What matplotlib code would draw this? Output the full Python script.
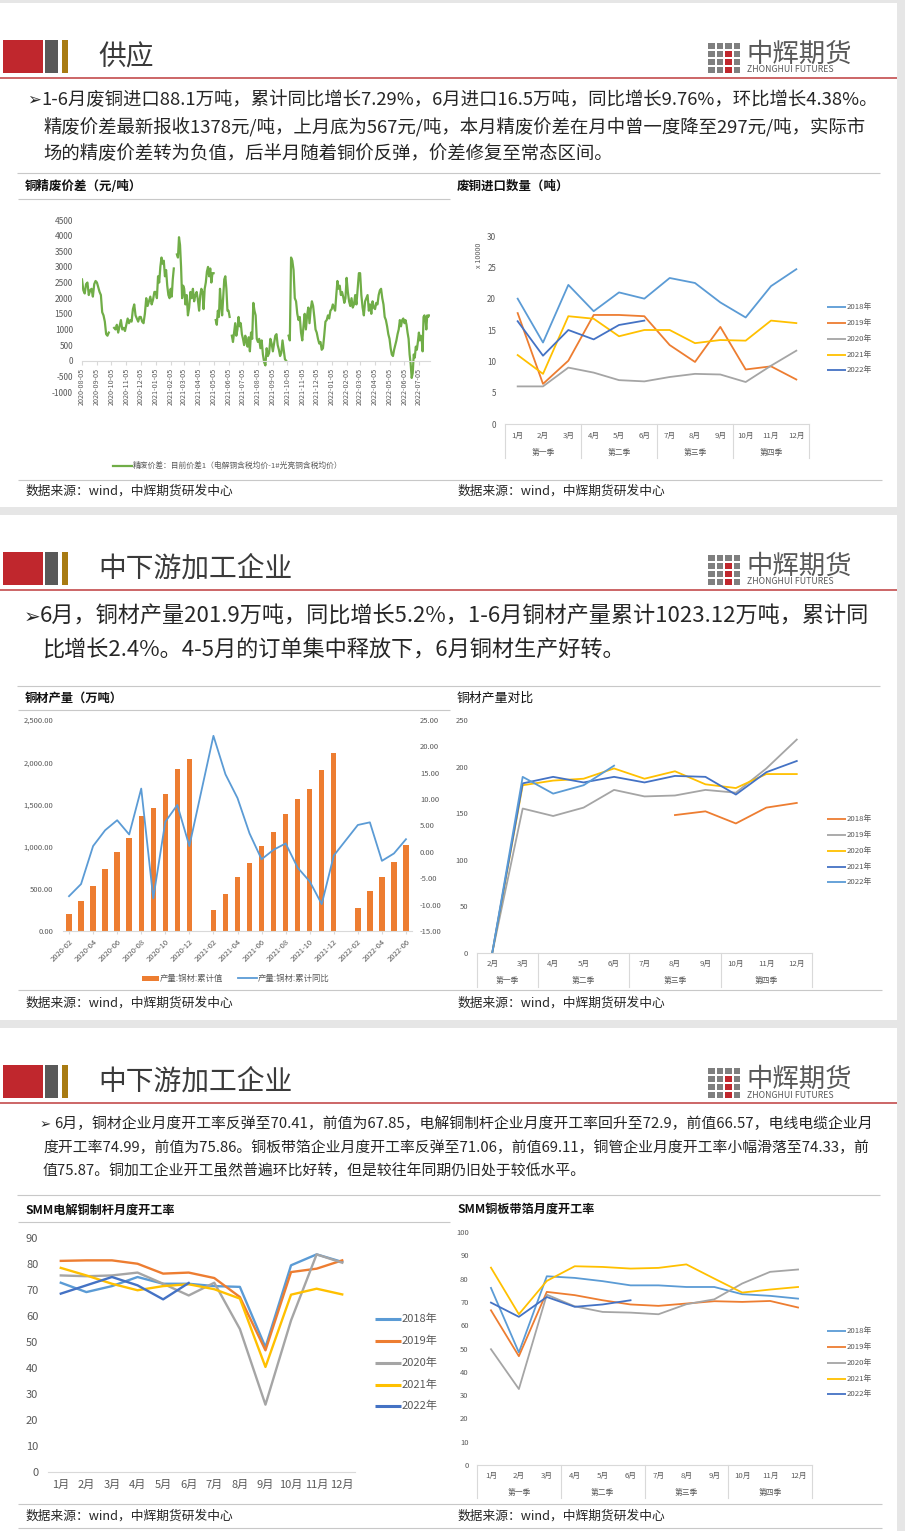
import numpy as np
import pandas as pd
import matplotlib
matplotlib.use('Agg')
import matplotlib.pyplot as plt
from matplotlib.patches import Rectangle
from matplotlib.transforms import blended_transform_factory

plt.rcParams['font.family'] = ['Noto Sans CJK SC', 'DejaVu Sans']
plt.rcParams['axes.unicode_minus'] = False

W, H = 905, 1531

# ---------------- data ----------------
# chart 1: refined-scrap spread, values read per month (None = gap)
spread_ticks = ['2020-08-05', '2020-09-05', '2020-10-05', '2020-11-05', '2020-12-05',
                '2021-01-05', '2021-02-05', '2021-03-05', '2021-04-05', '2021-05-05',
                '2021-06-05', '2021-07-05', '2021-08-05', '2021-09-05', '2021-10-05',
                '2021-11-05', '2021-12-05', '2022-01-05', '2022-02-05', '2022-03-05',
                '2022-04-05', '2022-05-05', '2022-06-05', '2022-07-05']
spread_end = '2022-07-28'
spread_by_month = [
    [2600, 2250, 2150, 2450, 2500, 2100, 2250, 2300, 2050, 2450, 2550],
    [2500, 2350, 2200, 2100, 1550, 1450, 1250, 850, 800, 900, None],
    [None, None, 1050, 1000, 1150, 900, 1100, 1300, 1000, 1050, 950],
    [1150, 1350, 1200, 1300, 1250, 1650, 1800, 1450, 1350, 1250, 1400],
    [1400, 1250, 1200, 1500, 2000, 1750, 1900, 2050, 1800, 1950, 2200],
    [2200, 2000, 2700, 2500, 3000, 3300, 3100, 3200, 2700, 2900, 2400, 2100, 2000],
    [2300, 2050, 2600, 2950, None, None, 3400, 3300, 3950, 3700, 3000, 2000, 2400],
    [2300, 1800, 2100, 1450, 1700, 2200, 2000, 2300, 1900, 2100, 2200, 1950],
    [1600, 2100, 2300, 2200, 1650, 2300, 2500, 2850, 3000, 2700, 2950, 2500, 2800],
    [2800, None, 1300, 1150, 1600, 1400, 2300, 1800, 1450, 2000, 2600, 2700, 2300, 1600],
    [1600, 1400, None, 800, 600, 900, 1200, 800, 1000, 1400, 1100, 1200, 850],
    [700, 500, 800, 600, 450, 750, 300, 900, 700, 1850, 1600, 1450, 700],
    [600, 700, 400, 650, 200, -50, -150, 400, 150, 250, 700, 550],
    [300, 550, 800, 850, 500, 350, 150, 250, 650, 350, 50, 0],
    [None, 800, 650, 3300, 3200, 2900, 2000, 1900, 1500, 1300, 1400, 900],
    [650, 1100, 1500, 1000, 1450, 1700, 1200, 1650, 1900, 1750, 1400, 1000],
    [900, 700, 550, 600, 350, 400, 800, 1250, 1300, 1450, 1350, 1600],
    [1650, 1800, 1700, 1600, 2100, 2550, 2300, 2400, 2100, 2200, 2050, 1850, 2000],
    [2650, 2200, 1900, 1750, 2000, 1700, 1800, 2100, 1800, 2300, 2800],
    [2800, 2100, 1700, 1450, 1900, 2000, 2100, 1600, 1800, 1500, 1900, 1700],
    [1650, 1850, 1800, 2100, 2250, 2300, 2000, 1800, 1400, 1300, 1100, 850],
    [700, 400, 200, 150, 350, 500, 650, 850, 1000, 1300, 1100, 1300, 1350],
    [1200, 1300, 1150, 900, 700, 200, -100, -550, -400, 200, 100, 450, 350, 600],
    [900, 650, 800, 700, 300, 1400, 1450, 1350, 1000, 1450, 1400, 1450],
]

months12 = ['1月', '2月', '3月', '4月', '5月', '6月', '7月', '8月', '9月', '10月', '11月', '12月']
quarters = ['第一季', '第二季', '第三季', '第四季']
years = ['2018年', '2019年', '2020年', '2021年', '2022年']

# chart 2: scrap copper imports (x10000 t)
scrap_2018 = [20, 13, 22.2, 18, 21, 20, 23.3, 22.5, 19.4, 17, 22, 24.7]
scrap_2019 = [17.7, 6.4, 10.1, 17.4, 17.4, 17.2, 12.6, 9.9, 15.5, 8.7, 9.2, 7.1]
scrap_2020 = [6, 6, 9, 8.2, 7, 6.8, 7.5, 8, 7.9, 6.7, 9.3, 11.7]
scrap_2021 = [11, 8, 17.2, 16.8, 14, 15, 15, 12.9, 13.4, 13.3, 16.5, 16.1]
scrap_2022 = [16.4, 10.9, 15, 13.5, 15.8, 16.5, None, None, None, None, None, None]

# chart 3: copper products output, cumulative value and cumulative yoy
output_months = ['2020-02', '2020-03', '2020-04', '2020-05', '2020-06', '2020-07', '2020-08',
                 '2020-09', '2020-10', '2020-11', '2020-12', '2021-01', '2021-02', '2021-03',
                 '2021-04', '2021-05', '2021-06', '2021-07', '2021-08', '2021-09', '2021-10',
                 '2021-11', '2021-12', '2022-01', '2022-02', '2022-03', '2022-04', '2022-05',
                 '2022-06']
output_cum = [201, 355, 537, 735, 932, 1106, 1367, 1461, 1623, 1919, 2038, None,
              253, 438, 644, 810, 1007, 1177, 1382, 1560, 1686, 1904, 2113, None,
              276, 474, 640, 818, 1023.12]
output_yoy = [-8.4, -6.1, 1.1, 4.1, 6.0, 3.3, 12.0, -8.8, 5.7, 8.9, 1.1, None,
              22.0, 14.7, 10.2, 3.5, -1.4, 0.4, 1.6, -3.0, -5.6, -9.9, -0.7, None,
              5.1, 5.6, -1.7, -0.3, 2.4]

# chart 4: copper products output comparison
prod_months = ['2月', '3月', '4月', '5月', '6月', '7月', '8月', '9月', '10月', '11月', '12月']
prod_2018 = [None, None, None, None, None, None, 148, 152, 139, 156, 161]
prod_2019 = [0, 155, 147, 156, 175, 168, 169, 175, 172, 198, 229]
prod_2020 = [0, 180, 185, 187, 198, 187, 195, 181, 177, 192, 192]
prod_2021 = [0, 182, 189, 183, 189, 183, 190, 189, 170, 194, 206]
prod_2022 = [0, 189, 171, 180, 201, None, None, None, None, None, None]

# chart 5: SMM rod operating rate
rod_2018 = [72.8, 69.2, 71.5, 75, 72.4, 72.4, 71.5, 71.2, 48, 79.5, 83.7, 80.8]
rod_2019 = [81.2, 81.4, 81.4, 80.1, 76.3, 76.7, 74.6, 67.3, 46.8, 76.9, 78.2, 81.4]
rod_2020 = [75.6, 75.3, 75.6, 76.7, 72.4, 67.9, 72.8, 55, 25.9, 58.3, 83.7, 80.5]
rod_2021 = [78.5, 75.6, 72.4, 69.9, 71.5, 72.2, 70.3, 66.7, 40.4, 68.2, 70.5, 68.3]
rod_2022 = [68.6, 71.8, 75, 71.8, 66.4, 72.7, None, None, None, None, None, None]

# chart 6: SMM strip/foil operating rate
strip_2018 = [76, 48.3, 81, 80.3, 78.9, 77.1, 77.1, 76.4, 76.4, 73.3, 72.6, 71.4]
strip_2019 = [66.4, 46.7, 74.3, 72.9, 70.7, 68.9, 68.3, 69.3, 70.3, 70, 70.4, 67.6]
strip_2020 = [49.7, 32.6, 73.1, 68.1, 65.7, 65.4, 64.7, 69, 71.1, 77.9, 82.9, 83.9]
strip_2021 = [84.7, 64.7, 79, 85.3, 85, 84.3, 84.6, 86.1, 80, 74, 75.3, 76.4]
strip_2022 = [69.7, 63.6, 72.1, 67.9, 68.9, 70.7, None, None, None, None, None, None]

# ---------------- styles ----------------
C_BLUE, C_ORANGE, C_GRAY, C_GOLD, C_DBLUE = '#5b9bd5', '#ed7d31', '#a5a5a5', '#ffc000', '#4472c4'
C_GREEN = '#70ad47'
TXT = '#595959'
LINE = '#d9d9d9'
SEP = '#c8c8c8'

fig = plt.figure(figsize=(W / 100, H / 100), dpi=100, facecolor='#e6e6e6')
renderer = fig.canvas.get_renderer()

deco = fig.add_axes([0, 0, 1, 1], zorder=0)
deco.set_xlim(0, W)
deco.set_ylim(H, 0)
deco.axis('off')


def ax_px(x0, y0, x1, y1):
    a = fig.add_axes([x0 / W, 1 - y1 / H, (x1 - x0) / W, (y1 - y0) / H], zorder=2)
    a.set_facecolor('none')
    return a


def hline(y, x0, x1, color=SEP, lw=0.8):
    deco.plot([x0, x1], [y, y], color=color, lw=lw, solid_capstyle='butt')


def fit_size(s, width, bold=False):
    t = deco.text(0, 0, s, fontsize=10, fontweight='bold' if bold else 'normal')
    w = t.get_window_extent(renderer).width
    t.remove()
    return 10 * width / w


def put(x, y, s, fs, color='#262626', bold=False, **kw):
    deco.text(x, y, s, fontsize=fs, color=color, va='center', ha='left',
              fontweight='bold' if bold else 'normal', **kw)


def header(top, title):
    deco.add_patch(Rectangle((3, top + 37), 40, 33, color='#c0272d', lw=0))
    deco.add_patch(Rectangle((45, top + 37), 13, 33, color='#595959', lw=0))
    deco.add_patch(Rectangle((62, top + 37), 6, 33, color='#a87b12', lw=0))
    put(98, top + 54, title, 20, color='#3a3a3a')
    hline(top + 75, 0, 897, color='#c8595a', lw=1.3)
    # logo
    for r in range(4):
        for c in range(4):
            col = '#c0272d' if (c == 2 and r >= 1) else '#7f7f7f'
            deco.add_patch(Rectangle((708 + c * 8.5, top + 40 + r * 8), 6.5, 6, color=col, lw=0))
    put(746, top + 51, '中辉期货', 19, color='#595959')
    put(747, top + 67, 'ZHONGHUI FUTURES', 6.3, color='#595959')


def footer(y_line, y_text):
    hline(y_line, 18, 882)
    src = '数据来源：wind，中辉期货研发中心'
    fs = fit_size(src, 207)
    put(25, y_text, src, fs)
    put(457, y_text, src, fs)


def legend_px(x0, x1, ys, labels, colors, lw, fs):
    for y, lab, c in zip(ys, labels, colors):
        deco.plot([x0, x1], [y, y], color=c, lw=lw, solid_capstyle='butt')
        put(x1 + 1, y, lab, fs, color=TXT)


def quarter_axis(ax, labels, bounds, h_px, d_month, d_quarter, d_sep, fs):
    tr = blended_transform_factory(ax.transData, ax.transAxes)
    for i, lab in enumerate(labels):
        ax.text(i + 0.5, -d_month / h_px, lab, transform=tr, ha='center', va='center',
                fontsize=fs, color=TXT)
    for b in bounds:
        ax.plot([b, b], [0, -d_sep / h_px], transform=tr, color=LINE, lw=0.8, clip_on=False)
    for q, a, b in zip(quarters, bounds[:-1], bounds[1:]):
        ax.text((a + b) / 2, -d_quarter / h_px, q, transform=tr, ha='center', va='center',
                fontsize=fs, color=TXT)


def clean(ax, bottom=True):
    for s in ['top', 'right', 'left']:
        ax.spines[s].set_visible(False)
    ax.spines['bottom'].set_visible(bottom)
    ax.spines['bottom'].set_color(LINE)


def arr(v):
    return np.array([np.nan if x is None else x for x in v], dtype=float)


# ---------------- panels ----------------
for top, bot in [(3, 507), (515, 1020), (1028, 1531)]:
    deco.add_patch(Rectangle((0, top), 897, bot - top, color='white', lw=0))

header(3, '供应')
header(515, '中下游加工企业')
header(1028, '中下游加工企业')

# panel 1 text
p1 = ['1-6月废铜进口88.1万吨，累计同比增长7.29%，6月进口16.5万吨，同比增长9.76%，环比增长4.38%。',
      '精废价差最新报收1378元/吨，上月底为567元/吨，本月精废价差在月中曾一度降至297元/吨，实际市',
      '场的精废价差转为负值，后半月随着铜价反弹，价差修复至常态区间。']
fs1 = fit_size(p1[1], 823)
put(27, 100, '➢', fs1 * 0.9)
put(41, 100, p1[0], fs1)
put(43, 128, p1[1], fs1)
put(43, 154, p1[2], fs1)
hline(173, 17, 880)

# panel 2 text
p2 = ['6月，铜材产量201.9万吨，同比增长5.2%，1-6月铜材产量累计1023.12万吨，累计同',
      '比增长2.4%。4-5月的订单集中释放下，6月铜材生产好转。']
fs2 = fit_size(p2[0], 830)
put(24, 617, '➢', fs2 * 0.9)
put(40, 617, p2[0], fs2)
put(42, 651, p2[1], fs2)
hline(686, 17, 880)

# panel 3 text
p3 = ['6月，铜材企业月度开工率反弹至70.41，前值为67.85，电解铜制杆企业月度开工率回升至72.9，前值66.57，电线电缆企业月',
      '度开工率74.99，前值为75.86。铜板带箔企业月度开工率反弹至71.06，前值69.11，铜管企业月度开工率小幅滑落至74.33，前',
      '值75.87。铜加工企业开工虽然普遍环比好转，但是较往年同期仍旧处于较低水平。']
fs3 = fit_size(p3[1], 823)
put(40, 1124, '➢', fs3 * 0.9)
put(54, 1124, p3[0], fs3)
put(43, 1148, p3[1], fs3)
put(43, 1171, p3[2], fs3)
hline(1195, 17, 880)

# chart titles
for x, y, s, wpx, b in [(25, 186, '铜精废价差（元/吨）', 117, True),
                        (457, 186, '废铜进口数量（吨）', 112, True),
                        (25, 698, '铜材产量（万吨）', 98, True),
                        (457, 698, '铜材产量对比', 77, False),
                        (25, 1210, 'SMM电解铜制杆月度开工率', 150, True),
                        (457, 1209, 'SMM铜板带箔月度开工率', 137, True)]:
    put(x, y, s, fit_size(s, wpx, b), color='#111111', bold=b)
hline(199, 18, 450)
hline(710, 18, 450)
hline(1222, 18, 450)

footer(480, 491)
footer(990, 1003)
footer(1504, 1516)
hline(1528, 18, 882)

year_colors = [C_BLUE, C_ORANGE, C_GRAY, C_GOLD, C_DBLUE]

# ---------------- chart 1 ----------------
ax1 = ax_px(82, 220, 430, 392)
xs, ys = [], []
for k, vals in enumerate(spread_by_month):
    start = pd.Timestamp(spread_ticks[k])
    end = pd.Timestamp(spread_ticks[k + 1]) if k + 1 < len(spread_ticks) else pd.Timestamp(spread_end)
    xs.extend(pd.date_range(start, end, periods=len(vals) + 1)[:-1])
    ys.extend(vals)
ax1.plot(xs, arr(ys), color=C_GREEN, lw=1.6)
clean(ax1)
ax1.spines['bottom'].set_position(('data', 0))
ax1.set_xlim(pd.Timestamp(spread_ticks[0]), pd.Timestamp(spread_end))
ax1.set_ylim(-1000, 4500)
ax1.set_yticks(np.arange(-1000, 4501, 500))
ax1.set_xticks(pd.to_datetime(spread_ticks))
ax1.set_xticklabels(spread_ticks, rotation=90, fontsize=5.2, color=TXT)
ax1.tick_params(axis='x', length=3, color=LINE, pad=2)
ax1.tick_params(axis='y', length=0, labelsize=6, labelcolor=TXT, pad=6.5)
deco.plot([113, 132], [466, 466], color=C_GREEN, lw=1.6)
put(133, 466, '精废价差：目前价差1（电解铜含税均价-1#光亮铜含税均价）', 5.6, color=TXT)

# ---------------- chart 2 ----------------
ax2 = ax_px(505, 236, 809, 424)
x12 = np.arange(12) + 0.5
for vals, c in zip([scrap_2018, scrap_2019, scrap_2020, scrap_2021, scrap_2022], year_colors):
    ax2.plot(x12, arr(vals), color=c, lw=1.3)
ax2.set_xlim(0, 12)
ax2.set_ylim(0, 30)
ax2.set_yticks(np.arange(0, 31, 5))
ax2.set_xticks([])
clean(ax2)
ax2.tick_params(axis='y', length=0, labelsize=5.8, labelcolor=TXT, pad=6.5)
quarter_axis(ax2, months12, [0, 3, 6, 9, 12], 188, 12, 29, 34, 5.6)
put(475, 255, 'x 10000', 5.2, color=TXT, rotation=90)
legend_px(827, 846, [307, 323, 339, 355, 370], years, year_colors, 1.3, 5.6)

# ---------------- chart 3 ----------------
ax3 = ax_px(63, 720, 412, 931)
x29 = np.arange(len(output_months))
cum = arr(output_cum)
ok = ~np.isnan(cum)
ax3.bar(x29[ok], cum[ok], width=0.45, color=C_ORANGE, zorder=2)
ax3.set_xlim(-0.5, len(output_months) - 0.5)
ax3.set_ylim(0, 2500)
ax3.set_yticks(np.arange(0, 2501, 500))
ax3.set_yticklabels([f'{v:,.2f}' for v in np.arange(0, 2501, 500)])
ax3.set_xticks(x29[::2])
ax3.set_xticklabels(output_months[::2], rotation=45, ha='right', va='top',
                    rotation_mode='anchor', fontsize=5.5, color=TXT)
clean(ax3)
ax3.tick_params(axis='x', length=2, color=LINE, pad=3)
ax3.tick_params(axis='y', length=0, labelsize=5.5, labelcolor=TXT, pad=7)
ax3b = ax3.twinx()
ax3b.set_facecolor('none')
yoy = arr(output_yoy)
ok2 = ~np.isnan(yoy)
ax3b.plot(x29[ok2], yoy[ok2], color=C_BLUE, lw=1.3, zorder=3)
ax3b.set_ylim(-15, 25)
ax3b.set_yticks(np.arange(-15, 26, 5))
ax3b.set_yticklabels([f'{v:.2f}' for v in np.arange(-15, 26, 5)])
for s in ax3b.spines.values():
    s.set_visible(False)
ax3b.tick_params(axis='y', length=0, labelsize=5.5, labelcolor=TXT, pad=5.8)
deco.add_patch(Rectangle((142, 975.5), 17, 5, color=C_ORANGE, lw=0))
put(160, 978, '产量:铜材:累计值', 6, color=TXT)
deco.plot([238, 257], [978, 978], color=C_BLUE, lw=1.3)
put(258, 978, '产量:铜材:累计同比', 6, color=TXT)

# ---------------- chart 4 ----------------
ax4 = ax_px(477, 720, 812, 953)
x11 = np.arange(11) + 0.5
prod_colors = [C_ORANGE, C_GRAY, C_GOLD, C_DBLUE, C_BLUE]
for vals, c in zip([prod_2018, prod_2019, prod_2020, prod_2021, prod_2022], prod_colors):
    ax4.plot(x11, arr(vals), color=c, lw=1.3)
ax4.set_xlim(0, 11)
ax4.set_ylim(0, 250)
ax4.set_yticks(np.arange(0, 251, 50))
ax4.set_xticks([])
clean(ax4)
ax4.tick_params(axis='y', length=0, labelsize=5.5, labelcolor=TXT, pad=6.5)
quarter_axis(ax4, prod_months, [0, 2, 5, 8, 11], 233, 11, 28, 34, 5.6)
legend_px(827, 846, [819, 835, 851, 867, 882], years, prod_colors, 1.3, 5.6)

# ---------------- chart 5 ----------------
ax5 = ax_px(48, 1238, 355, 1472)
for vals, c in zip([rod_2018, rod_2019, rod_2020, rod_2021, rod_2022], year_colors):
    ax5.plot(x12, arr(vals), color=c, lw=1.7)
ax5.set_xlim(0, 12)
ax5.set_ylim(0, 90)
ax5.set_yticks(np.arange(0, 91, 10))
ax5.set_xticks(x12)
ax5.set_xticklabels(months12)
clean(ax5)
ax5.tick_params(axis='x', length=0, labelsize=8, labelcolor=TXT, pad=6)
ax5.tick_params(axis='y', length=0, labelsize=8, labelcolor=TXT, pad=7)
legend_px(375, 401, [1319, 1341, 1363, 1385, 1406], years, year_colors, 2.2, 8)

# ---------------- chart 6 ----------------
ax6 = ax_px(477, 1232, 812, 1465)
for vals, c in zip([strip_2018, strip_2019, strip_2020, strip_2021, strip_2022], year_colors):
    ax6.plot(x12, arr(vals), color=c, lw=1.3)
ax6.set_xlim(0, 12)
ax6.set_ylim(0, 100)
ax6.set_yticks(np.arange(0, 101, 10))
ax6.set_xticks([])
clean(ax6)
ax6.tick_params(axis='y', length=0, labelsize=5.5, labelcolor=TXT, pad=6)
quarter_axis(ax6, months12, [0, 3, 6, 9, 12], 233, 11, 28, 33, 5.6)
legend_px(827, 846, [1331, 1347, 1363, 1379, 1394], years, year_colors, 1.3, 5.6)

fig.savefig('out.png', dpi=100, facecolor=fig.get_facecolor())
